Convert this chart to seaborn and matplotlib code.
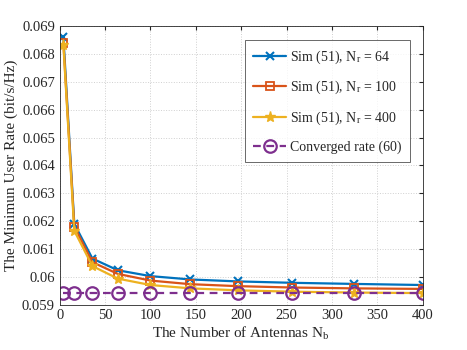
import numpy as np
import pandas as pd
import seaborn as sns
import matplotlib
matplotlib.use("Agg")
import matplotlib.pyplot as plt

# Data
n_antennas = [4, 16, 36, 64, 100, 144, 196, 256, 324, 400]
rate_nr64 = [0.06860, 0.06190, 0.06065, 0.06023, 0.06002, 0.05990, 0.05983, 0.05978, 0.05974, 0.05970]
rate_nr100 = [0.06840, 0.06180, 0.06052, 0.06010, 0.05986, 0.05973, 0.05966, 0.05961, 0.05958, 0.05956]
rate_nr400 = [0.06832, 0.06165, 0.06038, 0.05993, 0.05970, 0.05958, 0.05951, 0.05946, 0.05943, 0.05941]
rate_conv = [0.05940] * len(n_antennas)

labels = [r"Sim (51), N$_\mathregular{r}$ = 64",
          r"Sim (51), N$_\mathregular{r}$ = 100",
          r"Sim (51), N$_\mathregular{r}$ = 400",
          "Converged rate (60)"]

sns.set_style("white")
plt.rcParams["font.family"] = ["Liberation Serif", "DejaVu Serif"]
plt.rcParams["mathtext.fontset"] = "stix"

fig, ax = plt.subplots(figsize=(4.67, 3.5), dpi=100)

series = [
    (rate_nr64, "#0072BD", "x", "-", dict(markersize=6, markeredgewidth=1.5)),
    (rate_nr100, "#D95319", "s", "-", dict(markersize=6, markerfacecolor="none", markeredgewidth=1.3)),
    (rate_nr400, "#EDB120", "*", "-", dict(markersize=8, markeredgewidth=1.0)),
    (rate_conv, "#7E2F8E", "o", (0, (3.5, 2.5)), dict(markersize=9, markerfacecolor="none", markeredgewidth=1.6)),
]

for (vals, color, marker, ls, kw), lab in zip(series, labels):
    df = pd.DataFrame({"Nb": n_antennas, "rate": vals})
    sns.lineplot(data=df, x="Nb", y="rate", ax=ax, color=color, marker=marker,
                 linestyle=ls, linewidth=1.6, label=lab, markeredgecolor=color, **kw)

ax.set_xlim(0, 400)
ax.set_ylim(0.059, 0.069)
ax.set_xticks(np.arange(0, 401, 50))
ax.set_yticks(np.arange(0.059, 0.0691, 0.001))
ax.set_yticklabels(["0.059", "0.06", "0.061", "0.062", "0.063", "0.064",
                    "0.065", "0.066", "0.067", "0.068", "0.069"])
ax.tick_params(direction="in", length=3, labelsize=10.5, colors="#262626",
               top=True, right=True)
ax.grid(True, linestyle=":", color="#d0d0d0", linewidth=0.7)
for s in ax.spines.values():
    s.set_color("#262626")
    s.set_linewidth(0.6)

ax.set_xlabel(r"The Number of Antennas N$_\mathregular{b}$", fontsize=11, labelpad=2)
ax.set_ylabel("The Minimun User Rate (bit/s/Hz)", fontsize=11, labelpad=3)

leg = ax.legend(loc="upper right", bbox_to_anchor=(0.985, 0.975), fontsize=10,
                frameon=True, fancybox=False, edgecolor="#262626",
                handlelength=2.4, labelspacing=0.95, borderpad=0.6, handletextpad=0.3)
leg.get_frame().set_linewidth(0.6)

fig.subplots_adjust(left=0.128, right=0.905, bottom=0.13, top=0.925)
fig.savefig("out.png", dpi=100)
